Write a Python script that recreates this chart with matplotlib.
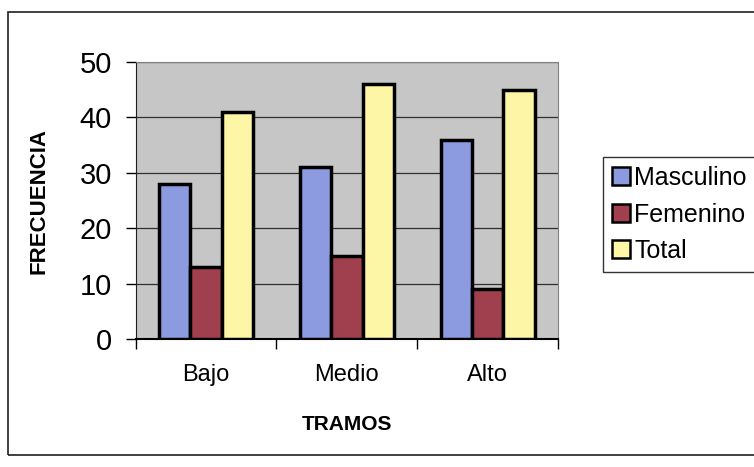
import numpy as np
import matplotlib
matplotlib.use("Agg")
from matplotlib import pyplot as plt
from matplotlib.patches import Rectangle

tramos = ["Bajo", "Medio", "Alto"]
masculino = [28, 31, 36]
femenino = [13, 15, 9]
total = [41, 46, 45]
series_names = ["Masculino", "Femenino", "Total"]
yticks = [0, 10, 20, 30, 40, 50]

plt.rcParams['font.family'] = ['Liberation Sans', 'DejaVu Sans']

fig = plt.figure(figsize=(7.54, 4.67), dpi=100)
fig.patch.set_facecolor("white")
ax = fig.add_axes([0.180, 0.274, 0.560, 0.593])
ax.set_facecolor("#c6c6c6")

x = np.arange(len(tramos))
w = 0.223
colors = ["#8c9be0", "#a0404f", "#fdf6a6"]
for i, (vals, name) in enumerate(zip([masculino, femenino, total], series_names)):
    ax.bar(x + (i - 1) * w, vals, w, color=colors[i], edgecolor="black",
           linewidth=2.5, label=name, zorder=3)

ax.set_xlim(-0.5, 2.5)
ax.set_ylim(0, 50)
ax.set_yticks(yticks)
ax.set_yticklabels([str(v) for v in yticks], fontsize=21)
ax.set_xticks(x)
ax.set_xticklabels(tramos, fontsize=17)
ax.tick_params(axis="x", length=0, pad=18)
ax.set_xticks([-0.5, 0.5, 1.5, 2.5], minor=True)
ax.tick_params(axis="x", which="minor", length=7, direction="out", width=1)
ax.tick_params(axis="y", length=7, direction="out", width=1, pad=10)
ax.yaxis.grid(True, color="#303030", linewidth=0.9, zorder=0)

for side in ["top", "right"]:
    ax.spines[side].set_color("#808080")
ax.spines["left"].set_color("#202020")
ax.spines["bottom"].set_color("black")
ax.spines["bottom"].set_linewidth(1.5)

ax.set_ylabel("FRECUENCIA", fontsize=16, fontweight="bold", labelpad=22)
ax.set_xlabel("TRAMOS", fontsize=15, fontweight="bold", labelpad=21)

leg = fig.legend(loc="upper left", bbox_to_anchor=(0.783, 0.69), fontsize=18,
                 frameon=True, fancybox=False, edgecolor="black",
                 handlelength=0.75, handleheight=0.75, handletextpad=0.15,
                 labelspacing=0.5, borderpad=0.35)
leg.get_frame().set_linewidth(1.0)
for h in leg.legend_handles:
    h.set_linewidth(1.8)

fig.add_artist(Rectangle((0.011, 0.025), 1.2, 0.95, transform=fig.transFigure,
                         fill=False, edgecolor="#202020", linewidth=1.2))

fig.savefig("out.png", dpi=100)
